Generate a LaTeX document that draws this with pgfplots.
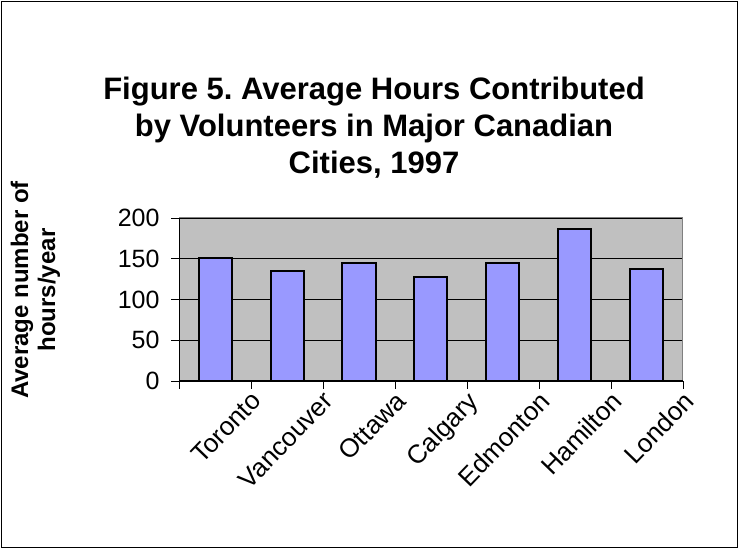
\documentclass[border=0pt]{standalone}
\usepackage{pgfplots}
\pgfplotsset{compat=1.18}
\usepackage{fontspec}
\setmainfont{Liberation Sans}
\frenchspacing
\definecolor{barfill}{HTML}{9999FF}
\definecolor{plotbg}{HTML}{C0C0C0}
\definecolor{framegray}{HTML}{808080}
\begin{document}
\begin{tikzpicture}
\useasboundingbox (0,0) rectangle (739pt,548pt);
\draw[black, line width=1pt] (1.5pt,0.5pt) rectangle (737.5pt,546.5pt);
\node[anchor=base, font=\bfseries\fontsize{31}{37}\selectfont] at (374pt,448pt) {Figure 5. Average Hours Contributed};
\node[anchor=base, font=\bfseries\fontsize{31}{37}\selectfont] at (374pt,411pt) {by Volunteers in Major Canadian};
\node[anchor=base, font=\bfseries\fontsize{31}{37}\selectfont] at (374pt,374pt) {Cities, 1997};
\node[rotate=90, font=\bfseries\fontsize{24}{29}\selectfont] at (22pt,258pt) {Average number of};
\node[rotate=90, font=\bfseries\fontsize{24}{29}\selectfont] at (49pt,258pt) {hours/year};
\begin{axis}[
  at={(179pt,167pt)}, anchor=south west,
  width=504pt, height=163pt, scale only axis,
  xmin=-0.5, xmax=6.5, ymin=0, ymax=200,
  ytick={0,50,100,150,200},
  ymajorgrids, grid style={black, line width=0.75pt},
  axis background/.style={fill=plotbg},
  axis line style={draw=framegray, line width=1pt},
  tick align=outside, major tick length=8pt,
  tick style={black, line width=0.75pt},
  xtick pos=bottom, ytick pos=left,
  xtick={-0.5,0.5,1.5,2.5,3.5,4.5,5.5,6.5},
  xticklabels={},
  extra x ticks={0,1,2,3,4,5,6},
  extra x tick labels={Toronto,Vancouver,Ottawa,Calgary,Edmonton,Hamilton,London},
  extra x tick style={major tick length=0pt,
    xticklabel style={font=\fontsize{26}{31}\selectfont, xshift=35pt, yshift=-4pt, rotate=46, anchor=north east}},
  yticklabel style={font=\fontsize{25}{30}\selectfont, xshift=-8pt},
  /pgf/number format/assume math mode=true,
  ybar, bar width=33pt,
]
\addplot[fill=barfill, draw=black, line width=2pt] coordinates {
  (0,151) (1,135) (2,145) (3,127) (4,145) (5,187) (6,138)
};
\draw[black, line width=1pt] (rel axis cs:0,1) -- (rel axis cs:0,0) -- (rel axis cs:1,0);
\end{axis}
\end{tikzpicture}
\end{document}
